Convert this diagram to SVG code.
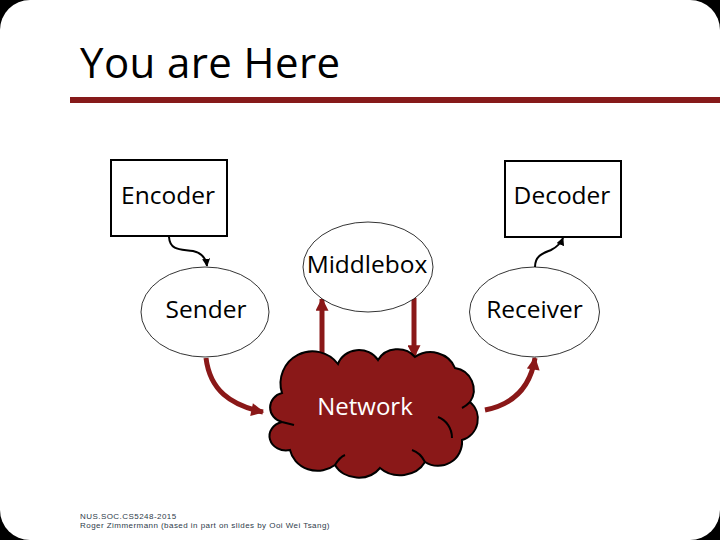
<svg xmlns="http://www.w3.org/2000/svg" width="720" height="540" viewBox="0 0 720 540">
  <style>
    .lbl { font-family: "Open Sans", "Liberation Sans", sans-serif; font-size: 24.5px; text-anchor: middle; fill: #000; }
    .box { fill: #fff; stroke: #000; stroke-width: 2; }
    .ell { fill: #fff; stroke: #000; stroke-width: 0.8; }
    .thin { fill: none; stroke: #000; stroke-width: 2; }
    .red { fill: none; stroke: #8a1818; stroke-width: 5; }
    .foot { font-family: "Liberation Sans", "DejaVu Sans", sans-serif; font-size: 8px; fill: #2e3b4a; letter-spacing: 0.45px; }
  </style>
  <defs>
    <marker id="ah" viewBox="0 0 10 10" refX="9" refY="5" markerWidth="8" markerHeight="8" markerUnits="userSpaceOnUse" orient="auto">
      <path d="M0,0 L10,5 L0,10 z" fill="#000"/>
    </marker>
    <marker id="rh" viewBox="0 0 10 10" refX="9" refY="5" markerWidth="15" markerHeight="13" markerUnits="userSpaceOnUse" orient="auto">
      <path d="M0,0 L10,5 L0,10 z" fill="#8a1818"/>
    </marker>
  </defs>

  <rect x="0" y="0" width="720" height="540" fill="#000"/>
  <rect x="0" y="0" width="720" height="540" rx="30" ry="30" fill="#fff"/>

  <text x="80" y="78" font-family="'Open Sans', 'Liberation Sans', sans-serif" font-size="42" letter-spacing="0.4" fill="#000">You are Here</text>
  <rect x="70" y="97" width="650" height="6" fill="#861a1a"/>

  <g id="connectors">
    <path class="thin" d="M169,237 C170,252 183,249 193,251 C202,253 206,258 207,266" marker-end="url(#ah)"/>
    <path class="thin" d="M535,267 C535,255 544,253 551,250 C557,247 561,243 563,238" marker-end="url(#ah)"/>
    <path class="red" d="M322,360 L322,299" marker-end="url(#rh)"/>
    <path class="red" d="M414,298 L414,357" marker-end="url(#rh)"/>
    <path class="red" d="M206,358 C210,390 230,405 263,412" marker-end="url(#rh)"/>
    <path class="red" d="M485,410 C510,405 530,390 535,358" marker-end="url(#rh)"/>
  </g>

  <g id="encoder">
    <rect class="box" x="111" y="160" width="116" height="76"/>
    <text class="lbl" x="168" y="204">Encoder</text>
  </g>
  <g id="decoder">
    <rect class="box" x="505" y="161" width="116" height="76"/>
    <text class="lbl" x="562" y="204">Decoder</text>
  </g>
  <g id="middlebox">
    <ellipse class="ell" cx="368" cy="267" rx="65" ry="45"/>
    <text class="lbl" x="367" y="273">Middlebox</text>
  </g>
  <g id="sender">
    <ellipse class="ell" cx="205" cy="312" rx="64" ry="45"/>
    <text class="lbl" x="206" y="318">Sender</text>
  </g>
  <g id="receiver">
    <ellipse class="ell" cx="534.5" cy="312" rx="65" ry="45"/>
    <text class="lbl" x="534.5" y="318">Receiver</text>
  </g>
  <g id="network">
    <path d="M282,393 A32,32 0 0 1 338,364 A22,20 0 0 1 378,360 A22,20 0 0 1 415,357 A26,24 0 0 1 455,368 A22,22 0 0 1 470,402 A22,22 0 0 1 462,440 A24,24 0 0 1 425,462 A28,24 0 0 1 380,468 A26,22 0 0 1 335,465 A28,26 0 0 1 290,450 A16,14 0 0 1 282,422 A16,15 0 0 1 282,393 Z" fill="#8a1818" stroke="#000" stroke-width="2"/>
    <path d="M282,422 C286,423 290,424 294,425" fill="none" stroke="#000" stroke-width="2"/>
    <path d="M470,402 C468,404 466,406 462,408" fill="none" stroke="#000" stroke-width="2"/>
    <path d="M438,417 C446,420 452,428 452,438" fill="none" stroke="#000" stroke-width="2"/>
    <path d="M425,462 C422,456 418,452 412,450" fill="none" stroke="#000" stroke-width="2"/>
    <path d="M335,465 C338,460 340,457 345,455" fill="none" stroke="#000" stroke-width="2"/>
    <text x="365" y="415" font-family="'Open Sans', 'Liberation Sans', sans-serif" font-size="24" text-anchor="middle" fill="#fff">Network</text>
  </g>

  <text class="foot" x="80" y="519">NUS.SOC.CS5248-2015</text>
  <text class="foot" x="80" y="528">Roger Zimmermann (based in part on slides by Ooi Wei Tsang)</text>
</svg>
